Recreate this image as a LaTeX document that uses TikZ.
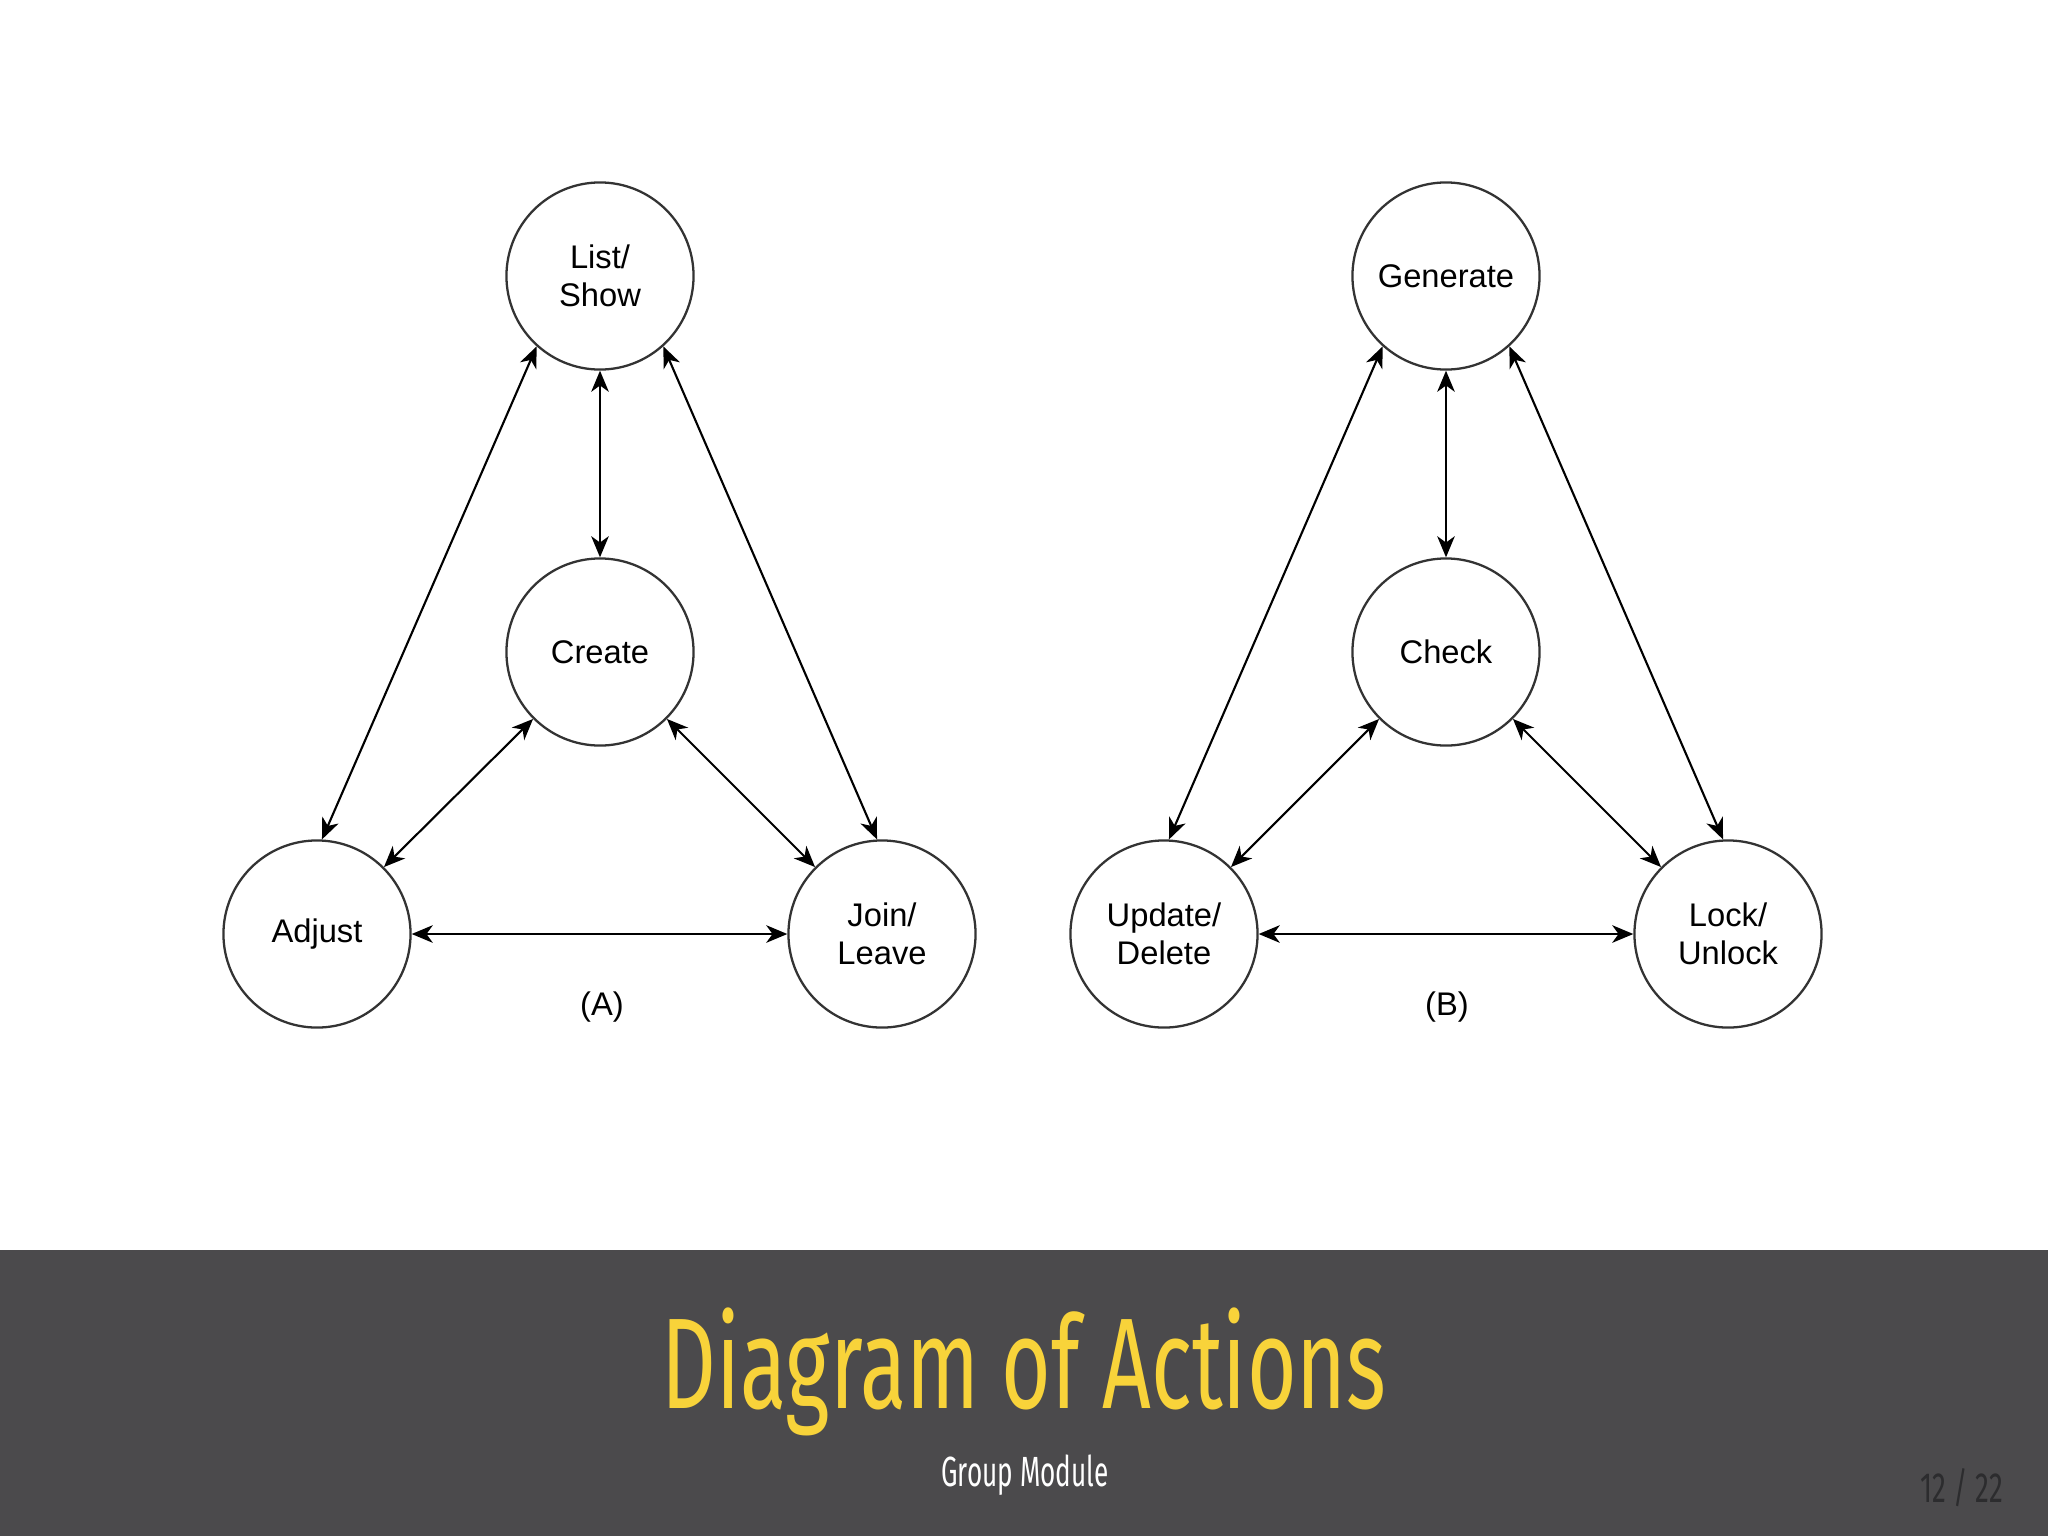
\documentclass[tikz,border=0pt]{standalone}
\usepackage{fontspec}
\setmainfont{Liberation Sans}
\newfontfamily\slidefont[FakeStretch=0.66]{Fira Sans}
\newfontfamily\subfont[FakeStretch=0.62]{Fira Sans}
\usetikzlibrary{arrows.meta,calc}

\definecolor{bandgray}{HTML}{4B4A4C}
\definecolor{titleyellow}{HTML}{F8D33A}
\definecolor{pagegray}{HTML}{2C2C2E}

\tikzset{
  action/.style={draw=black!80, line width=0.65pt, circle, minimum size=1.87cm,
    inner sep=0pt, align=center, font=\fontsize{9.3}{10.8}\selectfont},
  link/.style={<->, line width=0.6pt},
  caption/.style={font=\fontsize{9.3}{10.8}\selectfont},
}

\begin{document}
\begin{tikzpicture}[x=0.01cm, y=-0.01cm, >={Stealth[length=6pt,width=5pt,inset=1.8pt]}]
  \useasboundingbox (0,0) rectangle (2048,1536);

  % positions
  \coordinate (LS) at (600,276);
  \coordinate (CR) at (600,652);
  \coordinate (AD) at (317,934);
  \coordinate (JL) at (882,934);
  \coordinate (GE) at (1446,276);
  \coordinate (CH) at (1446,652);
  \coordinate (UD) at (1164,934);
  \coordinate (LU) at (1728,934);

  % diagram (A)
  \node[action] (list) at (LS) {List/\\Show};
  \node[action] (create) at (CR) {Create};
  \node[action] (adjust) at (AD) {Adjust};
  \node[action] (join) at (JL) {Join/\\Leave};
  \node[caption] (capA) at (602,1007) {(A)};

  \draw[link] (list.south) -- (create.north);
  \draw[link] (list.228) -- (adjust.87);
  \draw[link] (list.312) -- (join.93);
  \draw[link] (create.225) -- (adjust.45);
  \draw[link] (create.315) -- (join.135);
  \draw[link] (adjust.east) -- (join.west);

  % diagram (B)
  \node[action] (generate) at (GE) {Generate};
  \node[action] (check) at (CH) {Check};
  \node[action] (update) at (UD) {Update/\\Delete};
  \node[action] (lock) at (LU) {Lock/\\Unlock};
  \node[caption] (capB) at (1447,1007) {(B)};

  \draw[link] (generate.south) -- (check.north);
  \draw[link] (generate.228) -- (update.87);
  \draw[link] (generate.312) -- (lock.93);
  \draw[link] (check.225) -- (update.45);
  \draw[link] (check.315) -- (lock.135);
  \draw[link] (update.east) -- (lock.west);

  % footer band
  \fill[bandgray] (0,1250) rectangle (2048,1536);
  \node[anchor=base, text=titleyellow, font=\slidefont\fontsize{36.7}{40}\selectfont] (title) at (1024,1408) {Diagram of Actions};
  \node[anchor=base, text=white, font=\subfont\fontsize{12}{14}\selectfont] (subtitle) at (1025,1486) {Group Module};
  \node[anchor=base, text=pagegray, font=\slidefont\fontsize{12}{14}\selectfont] (page) at (1962,1502) {12 / 22};
\end{tikzpicture}
\end{document}
